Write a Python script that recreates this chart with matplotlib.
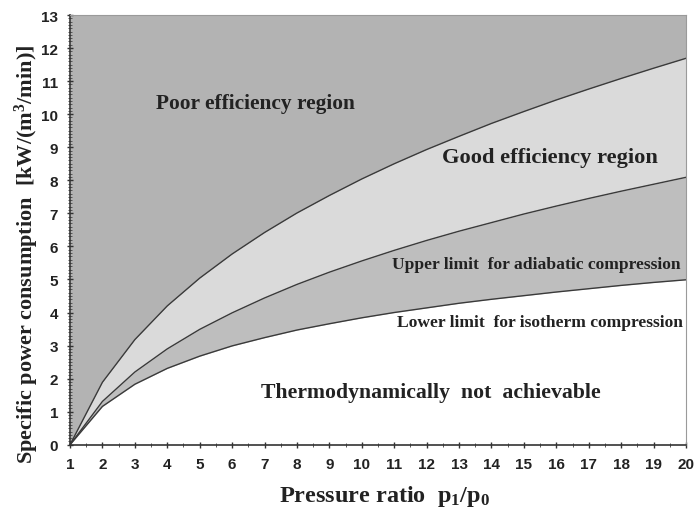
import matplotlib
matplotlib.use("Agg")
import matplotlib.pyplot as plt
from matplotlib.ticker import MultipleLocator

# Data
pressure_ratio = [1, 2, 3, 4, 5, 6, 7, 8, 9, 10, 11, 12, 13, 14, 15, 16, 17, 18, 19, 20]
isotherm_limit = [0, 1.16, 1.83, 2.31, 2.68, 2.99, 3.24, 3.47, 3.66, 3.84, 4.00, 4.14,
                  4.28, 4.40, 4.51, 4.62, 4.72, 4.82, 4.91, 4.99]
adiabatic_limit = [0, 1.31, 2.20, 2.90, 3.49, 3.99, 4.44, 4.85, 5.22, 5.56, 5.88, 6.18,
                   6.46, 6.72, 6.98, 7.22, 7.45, 7.67, 7.88, 8.09]
good_upper = [0, 1.89, 3.18, 4.20, 5.04, 5.77, 6.42, 7.01, 7.54, 8.04, 8.50, 8.93,
              9.33, 9.72, 10.08, 10.43, 10.76, 11.08, 11.39, 11.69]
y_max = 13

plt.rcParams["mathtext.fontset"] = "custom"
plt.rcParams["mathtext.rm"] = "Liberation Serif:bold"
plt.rcParams["mathtext.it"] = "Liberation Serif:bold"
plt.rcParams["mathtext.bf"] = "Liberation Serif:bold"
plt.rcParams["mathtext.default"] = "rm"

serif = ["Liberation Serif", "DejaVu Serif"]
sans = ["Liberation Sans Narrow", "Liberation Sans", "DejaVu Sans"]

fig = plt.figure(figsize=(6.96, 5.10), dpi=100)
ax = fig.add_axes([0.1006, 0.126, 0.885, 0.8426])

top = [y_max] * len(pressure_ratio)
ax.fill_between(pressure_ratio, good_upper, top, color="#b3b3b3", lw=0)
ax.fill_between(pressure_ratio, adiabatic_limit, good_upper, color="#dadada", lw=0)
ax.fill_between(pressure_ratio, isotherm_limit, adiabatic_limit, color="#bebebe", lw=0)
for series in (good_upper, adiabatic_limit, isotherm_limit):
    ax.plot(pressure_ratio, series, color="#3a3a3a", lw=1.0)

ax.set_xlim(1, 20)
ax.set_ylim(0, y_max)
ax.xaxis.set_major_locator(MultipleLocator(1))
ax.xaxis.set_minor_locator(MultipleLocator(0.5))
ax.yaxis.set_major_locator(MultipleLocator(1))
ax.yaxis.set_minor_locator(MultipleLocator(0.1))
ax.tick_params(axis="both", which="major", direction="inout", length=5, width=1,
               color="#333333", labelsize=11, pad=6)
ax.tick_params(axis="both", which="minor", direction="inout", length=3, width=0.7,
               color="#555555")
for lab in ax.get_xticklabels() + ax.get_yticklabels():
    lab.set_family(sans)
    lab.set_fontweight("bold")
    lab.set_color("#222222")

for s in ("left", "bottom"):
    ax.spines[s].set_color("#333333")
    ax.spines[s].set_linewidth(1.2)
for s in ("top", "right"):
    ax.spines[s].set_color("#9a9a9a")
    ax.spines[s].set_linewidth(0.8)

ax.set_xlabel("Pressure ratio  p$_1$/p$_0$", family=serif, fontweight="bold",
              fontsize=17.5, color="#222222", va="center")
ax.xaxis.set_label_coords(0.511, -0.117)
ax.set_ylabel("Specific power consumption  [kW/(m$^3$/min)]", family=serif,
              fontweight="bold", fontsize=16, color="#222222", va="center")
ax.yaxis.set_label_coords(-0.07, 0.445)

txt = dict(family=serif, fontweight="bold", color="#222222", ha="center", va="center")
ax.text(6.71, 10.34, "Poor efficiency region", fontsize=15.4, **txt)
ax.text(15.8, 8.7, "Good efficiency region", fontsize=16.2, **txt)
ax.text(15.38, 5.46, "Upper limit  for adiabatic compression", fontsize=12.6, **txt)
ax.text(15.5, 3.72, "Lower limit  for isotherm compression", fontsize=12.6, **txt)
ax.text(12.14, 1.59, "Thermodynamically  not  achievable", fontsize=15.7, **txt)

fig.savefig("out.png", dpi=100)
